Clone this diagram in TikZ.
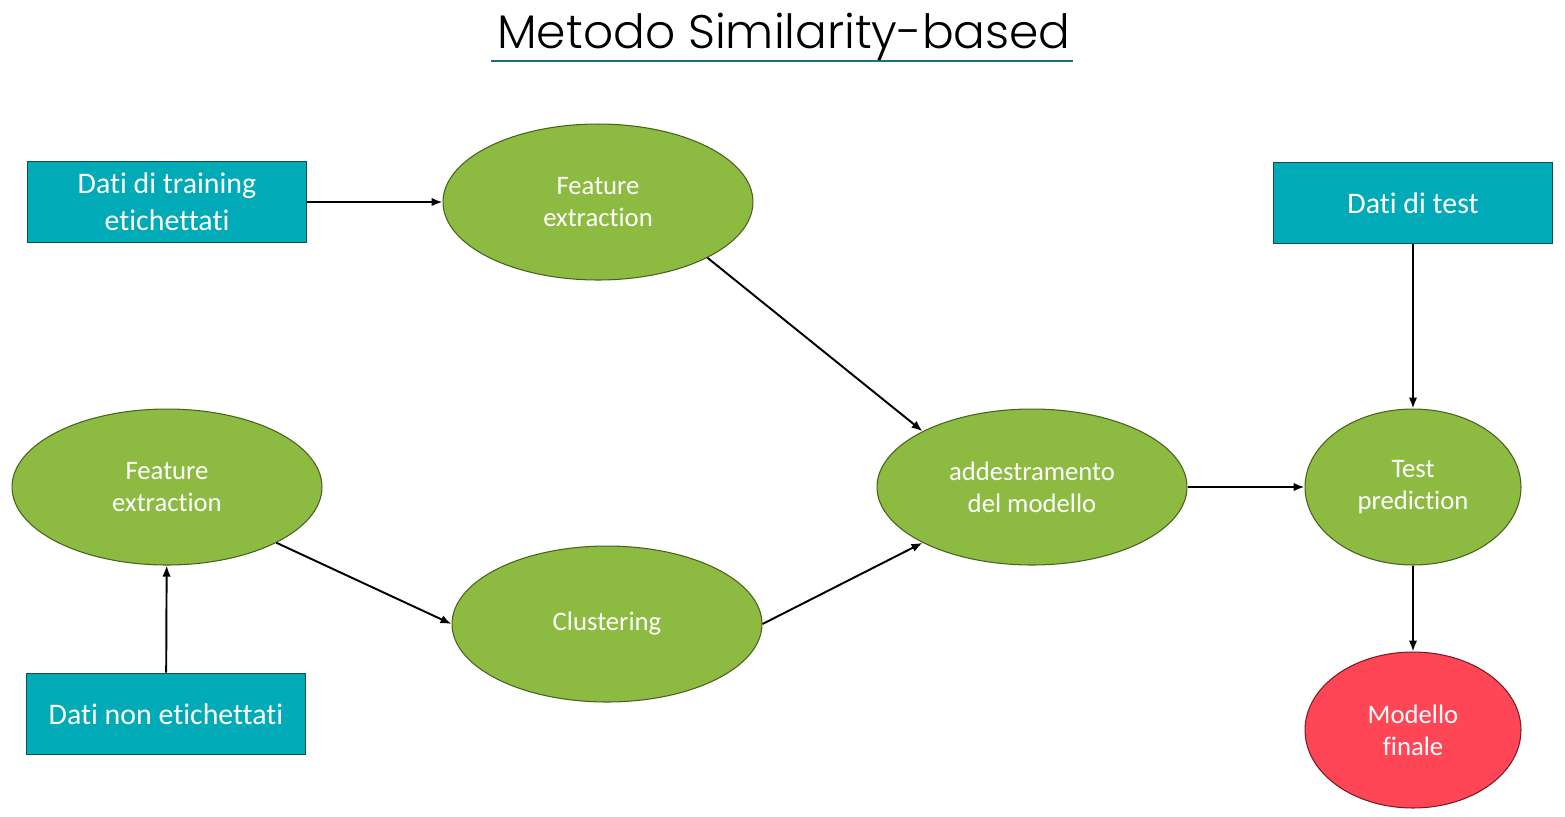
\documentclass[tikz,border=0pt]{standalone}
\usepackage{fontspec}
\setmainfont{Carlito}[Ligatures=NoCommon]
\newfontfamily\titlefont{Poppins Light}
\usetikzlibrary{shapes.geometric,arrows.meta}
\definecolor{databox}{HTML}{00AAB6}
\definecolor{databorder}{HTML}{0E4E57}
\definecolor{stepgreen}{HTML}{8DBB42}
\definecolor{stepborder}{HTML}{45621F}
\definecolor{finalred}{HTML}{FF4656}
\definecolor{finalborder}{HTML}{7A1A22}
\definecolor{titleline}{HTML}{1E6E7C}

\begin{document}
\begin{tikzpicture}[x=0.02cm, y=-0.02cm,
  databox/.style = {draw=databorder, fill=databox, line width=1pt, minimum width=5.58cm, minimum height=1.62cm, align=center, text=white, font=\fontsize{17}{21}\selectfont},
  stepnode/.style = {ellipse, draw=stepborder, fill=stepgreen, line width=0.6pt, minimum width=6.2cm, minimum height=3.12cm, align=center, text=white, font=\fontsize{15.2}{18.2}\selectfont},
  smallnode/.style = {stepnode, minimum width=4.32cm},
  finalnode/.style = {smallnode, draw=finalborder, fill=finalred},
  flow/.style = {-{Latex[length=2.2mm,width=1.7mm]}, line width=1.1pt}]
        \useasboundingbox (0,0) rectangle (1565,816);
        \node (title) at (784,37) {\titlefont\fontsize{26.8}{30}\selectfont Metodo Similarity-based};
        \draw[titleline, line width=0.8pt] (491,61) -- (1073,61);

        \node[databox] (train) at (167,202) {Dati di training\\etichettati};
        \node[databox] (unlab) at (166,714) {Dati non etichettati};
        \node[databox] (test) at (1413,203) {Dati di test};

        \node[stepnode] (feat1) at (598,202) {Feature\\extraction};
        \node[stepnode] (feat2) at (167,487) {Feature\\extraction};
        \node[stepnode] (clust) at (607,624) {Clustering};
        \node[stepnode] (model) at (1032,487) {addestramento\\del modello};
        \node[smallnode] (pred) at (1413,487) {Test\\prediction};
        \node[finalnode] (final) at (1413,730) {Modello\\finale};

        \draw[flow] (train) -- (feat1);
        \draw[flow] (feat1.-27) -- (model.153);
        \draw[flow] (unlab) -- (feat2);
        \draw[flow] (feat2.-27) -- (clust.west);
        \draw[flow] (clust.east) -- (model.207);
        \draw[flow] (model) -- (pred);
        \draw[flow] (test) -- (pred);
        \draw[flow] (pred) -- (final);
\end{tikzpicture}
\end{document}
